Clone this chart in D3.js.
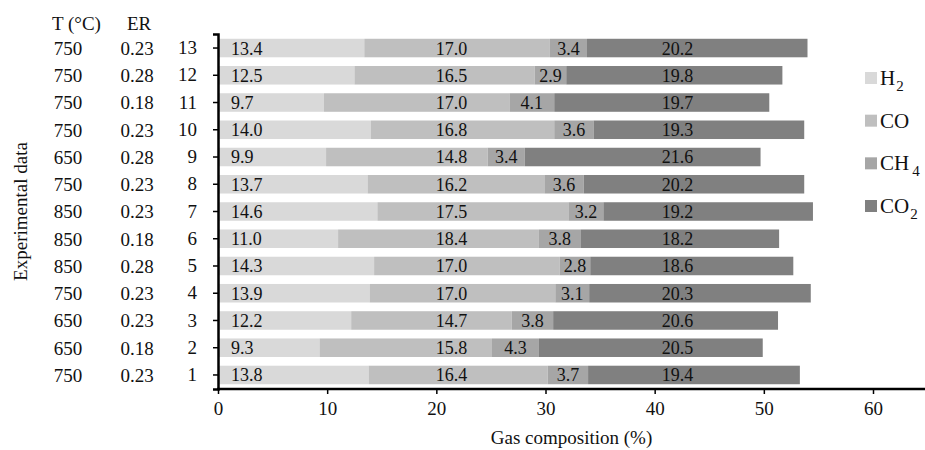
<!DOCTYPE html>
<html>
<head>
<meta charset="utf-8">
<script src="https://cdn.jsdelivr.net/npm/d3@7"></script>
<style>
  body { margin: 0; background: #fff; }
  svg, svg text { font-family: "Liberation Serif", "Times New Roman", Times, serif !important; }
  text { fill: #111; }
</style>
</head>
<body>
<div id="chart"></div>
<script>
// experiment numbers, conditions and measured gas composition (%)
const runs = [1, 2, 3, 4, 5, 6, 7, 8, 9, 10, 11, 12, 13];
const temps = [750, 650, 650, 750, 850, 850, 850, 750, 650, 750, 750, 750, 750];
const ers = ["0.23", "0.18", "0.23", "0.23", "0.28", "0.18", "0.23", "0.23", "0.28", "0.23", "0.18", "0.28", "0.23"];
const h2 = [13.8, 9.3, 12.2, 13.9, 14.3, 11.0, 14.6, 13.7, 9.9, 14.0, 9.7, 12.5, 13.4];
const co = [16.4, 15.8, 14.7, 17.0, 17.0, 18.4, 17.5, 16.2, 14.8, 16.8, 17.0, 16.5, 17.0];
const ch4 = [3.7, 4.3, 3.8, 3.1, 2.8, 3.8, 3.2, 3.6, 3.4, 3.6, 4.1, 2.9, 3.4];
const co2 = [19.4, 20.5, 20.6, 20.3, 18.6, 18.2, 19.2, 20.2, 21.6, 19.3, 19.7, 19.8, 20.2];
const xTicks = [0, 10, 20, 30, 40, 50, 60];

const keys = ["H2", "CO", "CH4", "CO2"];
const colors = { H2: "#d9d9d9", CO: "#bfbfbf", CH4: "#a6a6a6", CO2: "#808080" };

const width = 925, height = 450;
const margin = { top: 34, right: 0, bottom: 61, left: 218 };
const font = "Liberation Serif";

const table = runs.map((r, i) => ({ run: r, T: temps[i], ER: ers[i], H2: h2[i], CO: co[i], CH4: ch4[i], CO2: co2[i] }));

const svg = d3.select("#chart")
    .append("svg")
    .attr("width", width)
    .attr("height", height)
    .attr("font-family", font);

const x = d3.scaleLinear()
    .domain([0, 60])
    .range([margin.left, 873]);

const y = d3.scaleBand()
    .domain(runs)
    .range([height - margin.bottom, margin.top])
    .paddingInner(0.32)
    .paddingOuter(0.175);

const series = d3.stack().keys(keys)(table);

// bars
svg.append("g")
    .selectAll("g")
    .data(series)
    .join("g")
    .attr("fill", d => colors[d.key])
    .selectAll("rect")
    .data(d => d)
    .join("rect")
    .attr("x", d => x(d[0]))
    .attr("y", d => y(d.data.run))
    .attr("width", d => x(d[1]) - x(d[0]))
    .attr("height", y.bandwidth());

// value labels (H2 at the base, CO and CO2 in aligned columns, CH4 centred)
const labelX = {
    H2: d => x(0) + 13,
    CO: d => x(21.4),
    CH4: d => (x(d[0]) + x(d[1])) / 2,
    CO2: d => x(42.1)
};
series.forEach(s => {
    svg.append("g")
        .selectAll("text")
        .data(s)
        .join("text")
        .attr("x", labelX[s.key])
        .attr("y", d => y(d.data.run) + y.bandwidth() / 2)
        .attr("dy", "0.36em")
        .attr("text-anchor", s.key === "H2" ? "start" : "middle")
        .attr("font-family", font)
        .style("font-size", "18px")
        .text(d => d.data[s.key].toFixed(1));
});

// x axis
const xAxis = svg.append("g")
    .attr("transform", `translate(0,${height - margin.bottom})`)
    .call(d3.axisBottom(x).tickValues(xTicks).tickSize(5).tickSizeOuter(0).tickPadding(8));
xAxis.attr("font-family", font);
xAxis.select(".domain").remove();
xAxis.selectAll(".tick line").attr("stroke", "#000").attr("stroke-width", 1.5);
xAxis.selectAll(".tick text").style("font-size", "19px").attr("fill", "#111");
svg.append("line")
    .attr("x1", x(0) - 1)
    .attr("x2", width)
    .attr("y1", height - margin.bottom)
    .attr("y2", height - margin.bottom)
    .attr("stroke", "#000")
    .attr("stroke-width", 2.5);

// y axis
const yAxis = svg.append("g")
    .attr("transform", `translate(${margin.left},0)`)
    .call(d3.axisLeft(y).tickSize(5).tickSizeOuter(5).tickPadding(16));
yAxis.attr("font-family", font);
yAxis.select(".domain").attr("stroke", "#000").attr("stroke-width", 2.5);
yAxis.selectAll(".tick line").attr("stroke", "#000").attr("stroke-width", 1.5);
yAxis.selectAll(".tick text").style("font-size", "19px").attr("fill", "#111");

// condition columns
const cols = svg.append("g");
cols.selectAll(".t-label")
    .data(table)
    .join("text")
    .attr("class", "t-label")
    .attr("x", 68)
    .attr("y", d => y(d.run) + y.bandwidth() / 2)
    .attr("dy", "0.36em")
    .attr("text-anchor", "middle")
    .style("font-size", "19px")
    .text(d => d.T);
cols.selectAll(".er-label")
    .data(table)
    .join("text")
    .attr("class", "er-label")
    .attr("x", 137)
    .attr("y", d => y(d.run) + y.bandwidth() / 2)
    .attr("dy", "0.36em")
    .attr("text-anchor", "middle")
    .style("font-size", "19px")
    .text(d => d.ER);
cols.append("text")
    .attr("x", 52)
    .attr("y", 30)
    .style("font-size", "19px")
    .text("T (°C)");
cols.append("text")
    .attr("x", 127)
    .attr("y", 30)
    .style("font-size", "19px")
    .text("ER");

// axis titles
svg.append("text")
    .attr("x", (x(0) + width) / 2)
    .attr("y", 444)
    .attr("text-anchor", "middle")
    .style("font-size", "19px")
    .text("Gas composition (%)");

svg.append("text")
    .attr("transform", `translate(27,${(margin.top + height - margin.bottom) / 2}) rotate(-90)`)
    .attr("text-anchor", "middle")
    .style("font-size", "19px")
    .text("Experimental data");

// legend
const ly = d3.scalePoint().domain(keys).range([78, 206]);
const legend = svg.append("g")
    .selectAll("g")
    .data(keys)
    .join("g")
    .attr("transform", d => `translate(865,${ly(d)})`);
legend.append("rect")
    .attr("x", 0)
    .attr("y", -6)
    .attr("width", 12)
    .attr("height", 12)
    .attr("fill", d => colors[d]);
const lt = legend.append("text")
    .attr("x", 15)
    .attr("y", 7)
    .style("font-size", "21px");
lt.each(function(d) {
    const t = d3.select(this);
    const m = d.match(/^([A-Z]+)(\d?)$/);
    t.append("tspan").text(m[1]);
    if (m[2]) {
        t.append("tspan")
            .attr("dx", d === "CH4" ? 3 : 1)
            .attr("dy", 6)
            .style("font-size", "15px")
            .text(m[2]);
    }
});
</script>
</body>
</html>
